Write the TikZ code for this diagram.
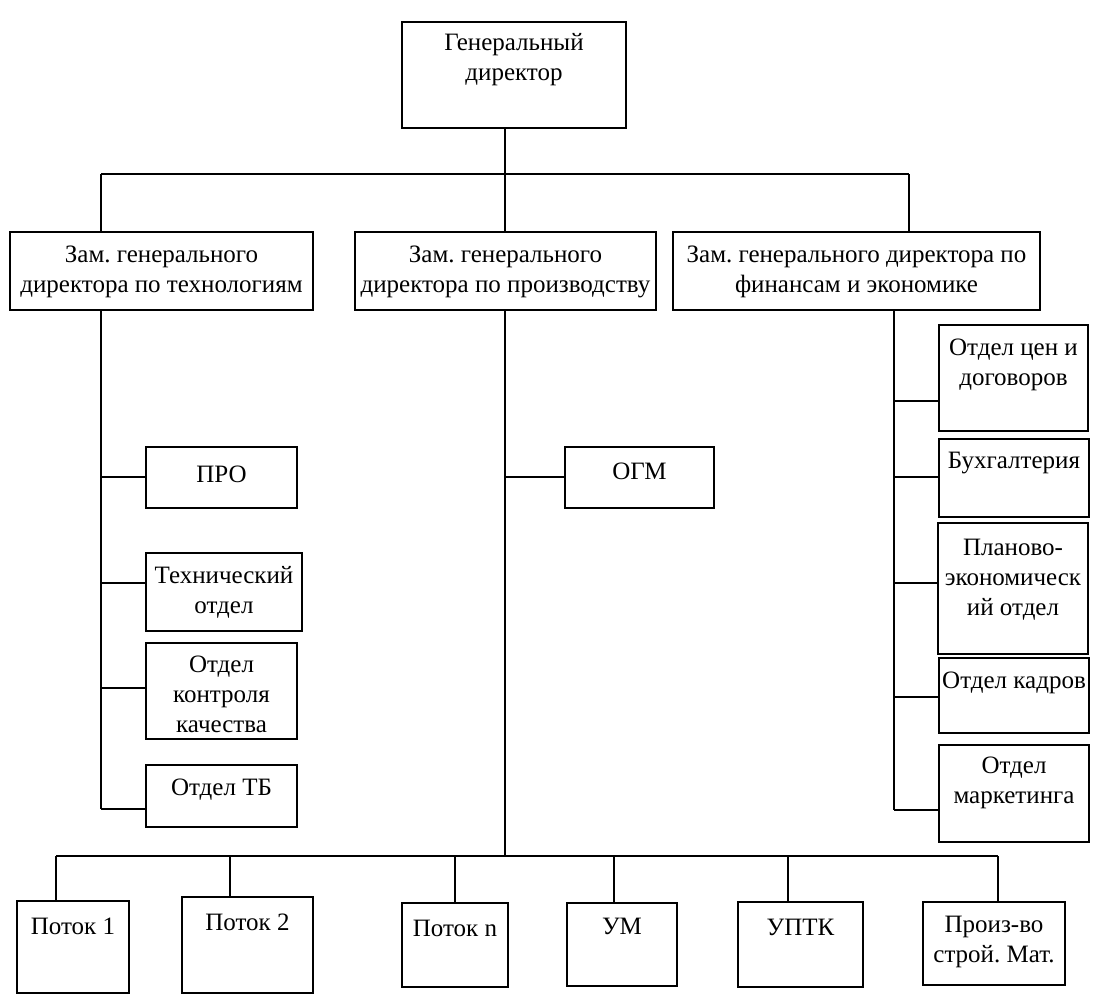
\documentclass[tikz,border=0pt]{standalone}
\usepackage{fontspec}
\setmainfont{Liberation Serif}
\usetikzlibrary{calc}
\frenchspacing

\tikzset{
  box/.style={draw, line width=1.4pt, inner sep=0pt},
  link/.style={line width=1.2pt},
  txt/.style={align=center, inner sep=0pt, font=\fontsize{25}{30}\selectfont}
}

\begin{document}
\begin{tikzpicture}[x=1pt, y=-1pt]
        \useasboundingbox (0,0) rectangle (1100,1002);
        % director and deputies
        \node[box, minimum width=224pt, minimum height=106pt] (gd) at (514,75) {};
        \node[txt] (gd-t) at (514,60) {Генеральный\\директор};
        \node[box, minimum width=303pt, minimum height=78pt] (d1) at (161.5,271) {};
        \node[txt] (d1-t) at (161.5,272) {Зам. генерального\\директора по технологиям};
        \node[box, minimum width=301pt, minimum height=78pt] (d2) at (505.5,271) {};
        \node[txt] (d2-t) at (505.5,272) {Зам. генерального\\директора по производству};
        \node[box, minimum width=367pt, minimum height=78pt] (d3) at (856.5,271) {};
        \node[txt] (d3-t) at (856.5,272) {Зам. генерального директора по\\финансам и экономике};

        % left branch
        \node[box, minimum width=151pt, minimum height=61pt] (pro) at (221.5,477.5) {};
        \node[txt] (pro-t) at (221.5,474) {ПРО};
        \node[box, minimum width=156pt, minimum height=78pt] (tech) at (224,592) {};
        \node[txt] (tech-t) at (224,592) {Технический\\отдел};
        \node[box, minimum width=151pt, minimum height=96pt] (kk) at (221.5,691) {};
        \node[txt] (kk-t) at (221.5,694) {Отдел\\контроля\\качества};
        \node[box, minimum width=151pt, minimum height=62pt] (tb) at (221.5,796) {};
        \node[txt] (tb-t) at (221.5,790) {Отдел ТБ};

        % middle branch
        \node[box, minimum width=149pt, minimum height=61pt] (ogm) at (639.5,477.5) {};
        \node[txt] (ogm-t) at (639.5,471) {ОГМ};

        % right branch
        \node[box, minimum width=149pt, minimum height=106pt] (cen) at (1013.5,378) {};
        \node[txt] (cen-t) at (1013.5,365) {Отдел цен и\\договоров};
        \node[box, minimum width=150pt, minimum height=78pt] (buh) at (1014,478) {};
        \node[txt] (buh-t) at (1014,463) {Бухгалтерия};
        \node[box, minimum width=150pt, minimum height=131pt] (plan) at (1013,588.5) {};
        \node[txt] (plan-t) at (1013,580) {Планово-\\экономическ\\ий отдел};
        \node[box, minimum width=150pt, minimum height=75pt] (kadr) at (1014,695.5) {};
        \node[txt] (kadr-t) at (1014,683) {Отдел кадров};
        \node[box, minimum width=150pt, minimum height=97pt] (mark) at (1014,793.5) {};
        \node[txt] (mark-t) at (1014,783) {Отдел\\маркетинга};

        % bottom row
        \node[box, minimum width=112pt, minimum height=92pt] (p1) at (73,947) {};
        \node[txt] (p1-t) at (73,926) {Поток 1};
        \node[box, minimum width=131pt, minimum height=96pt] (p2) at (247.5,945) {};
        \node[txt] (p2-t) at (247.5,922) {Поток 2};
        \node[box, minimum width=106pt, minimum height=84pt] (pn) at (455,945) {};
        \node[txt] (pn-t) at (455,928) {Поток n};
        \node[box, minimum width=110pt, minimum height=83pt] (um) at (622,944.5) {};
        \node[txt] (um-t) at (622,926) {УМ};
        \node[box, minimum width=125pt, minimum height=85pt] (uptk) at (800.5,944.5) {};
        \node[txt] (uptk-t) at (800.5,927) {УПТК};
        \node[box, minimum width=142pt, minimum height=83pt] (proiz) at (994,943.5) {};
        \node[txt] (proiz-t) at (994,942) {Произ-во\\строй. Мат.};

        % bus points
        \coordinate (t1) at (101,174);
        \coordinate (t2) at (505,174);
        \coordinate (t3) at (909,174);
        \coordinate (l1) at (101,477);
        \coordinate (l2) at (101,583);
        \coordinate (l3) at (101,688);
        \coordinate (l4) at (101,809);
        \coordinate (m1) at (505,477);
        \coordinate (r1) at (894,401);
        \coordinate (r2) at (894,477);
        \coordinate (r3) at (894,583);
        \coordinate (r4) at (894,697);
        \coordinate (r5) at (894,810);
        \coordinate (b1) at (56,856);
        \coordinate (b2) at (230,856);
        \coordinate (b3) at (455,856);
        \coordinate (bm) at (505,856);
        \coordinate (b4) at (614,856);
        \coordinate (b5) at (788,856);
        \coordinate (b6) at (998,856);

        % top links
        \draw[link] (gd.south -| t2) -- (t2 |- d2.north);
        \draw[link] (t1) -- (t3);
        \draw[link] (t1) -- (t1 |- d1.north);
        \draw[link] (t3) -- (t3 |- d3.north);

        % left links
        \draw[link] (l1 |- d1.south) -- (l4);
        \draw[link] (l1) -- (l1 -| pro.west);
        \draw[link] (l2) -- (l2 -| tech.west);
        \draw[link] (l3) -- (l3 -| kk.west);
        \draw[link] (l4) -- (l4 -| tb.west);

        % middle links
        \draw[link] (bm |- d2.south) -- (bm);
        \draw[link] (m1) -- (m1 -| ogm.west);

        % right links
        \draw[link] (r1 |- d3.south) -- (r5);
        \draw[link] (r1) -- (r1 -| cen.west);
        \draw[link] (r2) -- (r2 -| buh.west);
        \draw[link] (r3) -- (r3 -| plan.west);
        \draw[link] (r4) -- (r4 -| kadr.west);
        \draw[link] (r5) -- (r5 -| mark.west);

        % bottom links
        \draw[link] (b1) -- (b6);
        \draw[link] (b1) -- (b1 |- p1.north);
        \draw[link] (b2) -- (b2 |- p2.north);
        \draw[link] (b3) -- (b3 |- pn.north);
        \draw[link] (b4) -- (b4 |- um.north);
        \draw[link] (b5) -- (b5 |- uptk.north);
        \draw[link] (b6) -- (b6 |- proiz.north);
    \end{tikzpicture}
\end{document}
